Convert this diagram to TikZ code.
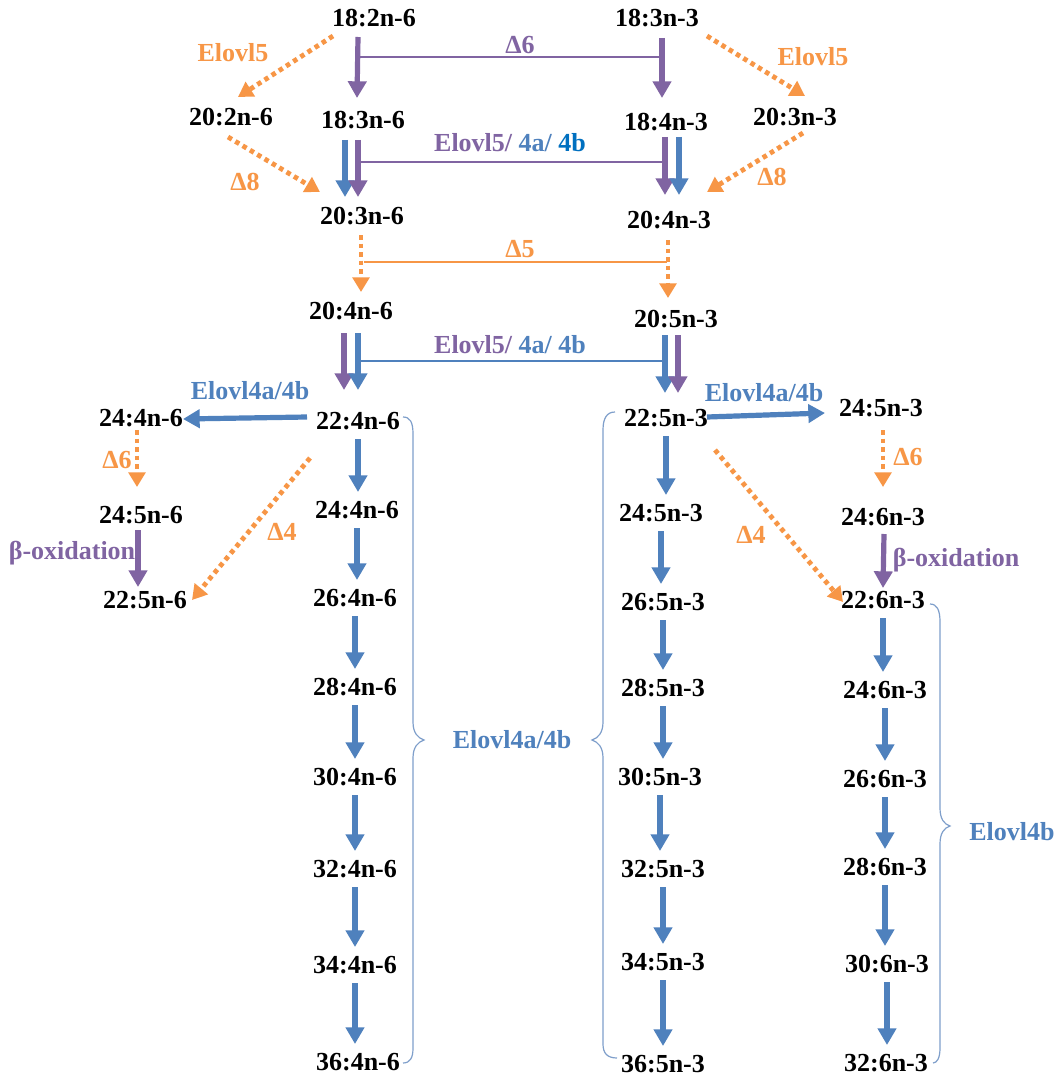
\documentclass[tikz,border=0pt]{standalone}
\usepackage{fontspec}
\setmainfont{Liberation Serif}
\usetikzlibrary{arrows.meta,calc}
\definecolor{org}{HTML}{F79646}
\definecolor{pur}{HTML}{8064A2}
\definecolor{blu}{HTML}{4F81BD}
\definecolor{dblu}{HTML}{0070C0}
\definecolor{brcol}{HTML}{7F9FCB}
\begin{document}
\begin{tikzpicture}[x=0.75pt,y=-0.75pt,
 fa/.style={font=\fontsize{19.5}{22}\selectfont\bfseries, inner sep=0pt},
 barr/.style={draw=blu, line width=3.9pt, -{Triangle[width=13.5pt,length=12.5pt]}},
 parr/.style={barr, draw=pur},
 oarr/.style={draw=org, line width=3.6pt, dash pattern=on 3.4pt off 3pt, -{Triangle[width=12.5pt,length=11pt]}},
 conn/.style={line width=0.9pt},
 brc/.style={draw=brcol, line width=0.9pt}]
\fill[white] (0,0) rectangle (1058,1077);
\useasboundingbox (0,0) rectangle (1058,1077);
% compounds
\node[fa] (A1) at (374,18) {18:2n-6};
\node[fa] (A2) at (657,18) {18:3n-3};
\node[fa] (B1) at (231,117) {20:2n-6};
\node[fa] (B2) at (363,120) {18:3n-6};
\node[fa] (B3) at (666,122) {18:4n-3};
\node[fa] (B4) at (795,117) {20:3n-3};
\node[fa] (C1) at (362,216) {20:3n-6};
\node[fa] (C2) at (669,220) {20:4n-3};
\node[fa] (D1) at (351,311) {20:4n-6};
\node[fa] (D2) at (676,319) {20:5n-3};
\node[fa] (E0) at (141,418) {24:4n-6};
\node[fa] (E1) at (358,421) {22:4n-6};
\node[fa] (E2) at (666,418) {22:5n-3};
\node[fa] (E3) at (881,408) {24:5n-3};
\node[fa] (F0) at (141,515) {24:5n-6};
\node[fa] (F1) at (357,510) {24:4n-6};
\node[fa] (F2) at (661,513) {24:5n-3};
\node[fa] (F3) at (883,517) {24:6n-3};
\node[fa] (G0) at (145,600) {22:5n-6};
\node[fa] (G1) at (355,598) {26:4n-6};
\node[fa] (G2) at (663,602) {26:5n-3};
\node[fa] (G3) at (883,600) {22:6n-3};
\node[fa] (H1) at (355,687) {28:4n-6};
\node[fa] (H2) at (663,688) {28:5n-3};
\node[fa] (H3) at (885,690) {24:6n-3};
\node[fa] (I1) at (355,777) {30:4n-6};
\node[fa] (I2) at (660,777) {30:5n-3};
\node[fa] (I3) at (885,779) {26:6n-3};
\node[fa] (J1) at (355,869) {32:4n-6};
\node[fa] (J2) at (663,869) {32:5n-3};
\node[fa] (J3) at (885,867) {28:6n-3};
\node[fa] (K1) at (355,965) {34:4n-6};
\node[fa] (K2) at (663,962) {34:5n-3};
\node[fa] (K3) at (887,964) {30:6n-3};
\node[fa] (L1) at (358,1062) {36:4n-6};
\node[fa] (L2) at (663,1064) {36:5n-3};
\node[fa] (L3) at (886,1063) {32:6n-3};
% labels
\node[fa,text=pur] (t1) at (520,45) {Δ6};
\node[fa,text=org] (t2) at (233,53) {Elovl5};
\node[fa,text=org] (t3) at (813,57) {Elovl5};
\node[fa,text=org] (t4) at (245,182) {Δ8};
\node[fa,text=org] (t5) at (772,177) {Δ8};
\node[fa] (t6) at (510,143) {\color{pur}Elovl5/ \color{blu}4a/ \color{dblu}4b};
\node[fa,text=org] (t7) at (520,249) {Δ5};
\node[fa] (t8) at (510,345) {\color{pur}Elovl5/ \color{blu}4a/ 4b};
\node[fa,text=blu] (t9) at (250,391) {Elovl4a/4b};
\node[fa,text=blu] (t10) at (764,393) {Elovl4a/4b};
\node[fa,text=org] (t11) at (117,460) {Δ6};
\node[fa,text=org] (t12) at (908,457) {Δ6};
\node[fa,text=pur] (t13) at (72,553) {β-oxidation};
\node[fa,text=pur] (t14) at (956,560) {β-oxidation};
\node[fa,text=org] (t15) at (282,532) {Δ4};
\node[fa,text=org] (t16) at (751,535) {Δ4};
\node[fa,text=blu] (t17) at (512,740) {Elovl4a/4b};
\node[fa,text=blu] (t18) at (1012,832) {Elovl4b};
% top arrows
\draw[parr] ($(A1)+(-16,19)$) -- ($(B2)+(-6,-22)$);
\draw[parr] ($(A2)+(5,20)$) -- ($(B3)+(-4,-24)$);
\draw[pur,conn] ($(A1)+(-14,39)$) -- ($(A2)+(5,39)$);
\draw[oarr] ($(A1)+(-41,18)$) -- ($(B1)+(7,-20)$);
\draw[oarr] ($(A2)+(50,18)$) -- ($(B4)+(10,-21)$);
\draw[oarr] ($(B1)+(-3,20)$) -- ($(C1)+(-42,-24)$);
\draw[oarr] ($(B4)+(8,16)$) -- ($(C2)+(38,-28)$);
\draw[barr] ($(B2)+(-18,20)$) -- ($(C1)+(-17,-19)$);
\draw[parr] ($(B2)+(-5,20)$) -- ($(C1)+(-4,-19)$);
\draw[parr] ($(B3)+(-1,15)$) -- ($(C2)+(-4,-25)$);
\draw[barr] ($(B3)+(13,15)$) -- ($(C2)+(10,-25)$);
\draw[pur,conn] ($(B2)+(-3,42)$) -- ($(B3)+(-1,40)$);
\draw[oarr] ($(C1)+(-1,19)$) -- ($(D1)+(10,-19)$);
\draw[oarr] ($(C2)+(-1,20)$) -- ($(D2)+(-8,-21)$);
\draw[org,conn] ($(C1)+(2,46)$) -- ($(C2)+(-2,42)$);
\draw[parr] ($(D1)+(-7,22)$) -- ($(E1)+(-14,-31)$);
\draw[barr] ($(D1)+(7,22)$) -- ($(E1)+(0,-31)$);
\draw[barr] ($(D2)+(-11,16)$) -- ($(E2)+(-1,-25)$);
\draw[parr] ($(D2)+(2,16)$) -- ($(E2)+(12,-25)$);
\draw[blu,conn] ($(D1)+(9,50)$) -- ($(D2)+(-11,42)$);
% side branches
\draw[barr] ($(E1)+(-51,-4)$) -- ($(E0)+(42,1)$);
\draw[barr] ($(E2)+(41,-1)$) -- ($(E3)+(-56,5)$);
\draw[oarr] ($(E0)+(-4,12)$) -- ($(F0)+(-4,-28)$);
\draw[oarr] ($(E3)+(2,22)$) -- ($(F3)+(0,-30)$);
\draw[parr] ($(F0)+(-3,15)$) -- ($(G0)+(-7,-13)$);
\draw[parr] ($(F3)+(1,17)$) -- ($(G3)+(0,-12)$);
\draw[oarr] ($(E1)+(-48,37)$) -- ($(G0)+(47,0)$);
\draw[oarr] ($(E2)+(49,32)$) -- ($(G3)+(-40,2)$);
% chains
\foreach \a/\b in {E1/F1,F1/G1,G1/H1,H1/I1,I1/J1,J1/K1,K1/L1,
                   E2/F2,F2/G2,G2/H2,H2/I2,I2/J2,J2/K2,K2/L2,
                   G3/H3,H3/I3,I3/J3,J3/K3,K3/L3}
  \draw[barr] ($(\a)+(0,18)$) -- ($(\a |- \b)+(0,-18)$);
% braces
\draw[brc] (403,417) .. controls (410,417) and (413,422) .. (413,434) -- (413,722)
  .. controls (413,733) and (418,738) .. (424,740) .. controls (418,742) and (413,747) .. (413,758)
  -- (413,1048) .. controls (413,1058) and (410,1063) .. (403,1063);
\draw[brc] (615,412) .. controls (607,412) and (603,418) .. (603,430) -- (603,722)
  .. controls (603,733) and (598,738) .. (592,740) .. controls (598,742) and (603,747) .. (603,758)
  -- (603,1044) .. controls (603,1053) and (607,1058) .. (617,1058);
\draw[brc] (930,604) .. controls (937,604) and (940,610) .. (940,622) -- (940,808)
  .. controls (940,819) and (944,824) .. (950,826) .. controls (944,828) and (940,833) .. (940,844)
  -- (940,1048) .. controls (940,1058) and (937,1063) .. (933,1063);
\end{tikzpicture}
\end{document}
